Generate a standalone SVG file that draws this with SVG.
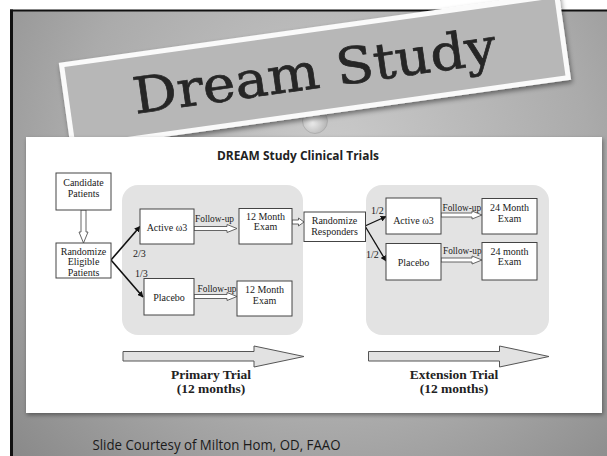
<svg xmlns="http://www.w3.org/2000/svg" width="607" height="456" viewBox="0 0 607 456">
<defs>
<radialGradient id="bg" cx="330" cy="160" r="430" gradientUnits="userSpaceOnUse">
<stop offset="0" stop-color="#cbcbcb"/>
<stop offset="0.6" stop-color="#ababab"/>
<stop offset="1" stop-color="#8a8a8a"/>
</radialGradient>
<radialGradient id="pin" cx="0.4" cy="0.55" r="0.6">
<stop offset="0" stop-color="#eeeeee"/>
<stop offset="1" stop-color="#b4b4b4"/>
</radialGradient>
<filter id="sh" x="-10%" y="-20%" width="120%" height="150%">
<feDropShadow dx="1" dy="3" stdDeviation="2.5" flood-color="#000" flood-opacity="0.45"/>
</filter>
<filter id="sh2" x="-5%" y="-5%" width="110%" height="115%">
<feDropShadow dx="1" dy="2" stdDeviation="2" flood-color="#000" flood-opacity="0.4"/>
</filter>
<marker id="ah" viewBox="0 0 10 10" refX="9" refY="5" markerWidth="6" markerHeight="6" markerUnits="userSpaceOnUse" orient="auto">
<path d="M0,0 L10,5 L0,10 Z" fill="#111"/>
</marker>
</defs>
<style>
.box{fill:#fff;stroke:#444;stroke-width:1}
.t{font-family:"Liberation Serif","Times New Roman",serif;font-size:10px;fill:#1a1a1a;text-anchor:middle}
.lbl{font-family:"Liberation Serif","Times New Roman",serif;font-size:10px;fill:#1a1a1a}
.hol{fill:#fff;stroke:#555;stroke-width:0.9}
.big{fill:#e2e2e2;stroke:#555;stroke-width:1}
.ln{stroke:#111;stroke-width:1.6;fill:none;marker-end:url(#ah)}
.grp{fill:#e3e3e3}
.bt{font-family:"Liberation Serif","Times New Roman",serif;font-size:13.5px;font-weight:bold;fill:#222;text-anchor:middle}
</style>
<rect width="607" height="456" fill="#fff"/>
<rect x="12" y="11" width="595" height="445" fill="url(#bg)"/>
<rect x="10" y="9.5" width="597" height="2" fill="#111"/>
<rect x="10" y="9.5" width="3" height="446.5" fill="#111"/>

<circle cx="315" cy="121" r="12.5" fill="url(#pin)" stroke="#a0a0a0" stroke-width="0.6"/>

<g id="banner" transform="translate(71,150) rotate(-8)">
<rect x="0" y="-88" width="505" height="88" fill="#fafafa" filter="url(#sh)"/>
<rect x="5" y="-83" width="495" height="78" fill="#b7b7b7"/>
<text x="252" y="-27" font-family="DejaVu Serif, 'Liberation Serif', serif" font-size="50" fill="#262626" stroke="#262626" stroke-width="0.7" text-anchor="middle" textLength="366" lengthAdjust="spacingAndGlyphs">Dream Study</text>
</g>

<rect x="26" y="137" width="576" height="276" fill="#fff" filter="url(#sh2)"/>
<text x="298" y="160" font-family="'Open Sans','DejaVu Sans',sans-serif" font-size="12" font-weight="bold" fill="#222" text-anchor="middle" textLength="162" lengthAdjust="spacingAndGlyphs">DREAM Study Clinical Trials</text>

<rect class="grp" x="122" y="185" width="181" height="150" rx="16"/>
<rect class="grp" x="366" y="185" width="183" height="150" rx="16"/>

<g id="connectors">
<path class="hol" d="M81,210 V232 H79 L83.5,243 L88,232 H86 V210 Z"/>
<line class="ln" x1="111" y1="260" x2="140" y2="226.5"/>
<line class="ln" x1="111" y1="260" x2="143" y2="297"/>
<path class="hol" d="M194,226.5 H227 V224.5 L237,228.5 L227,232.5 V230.5 H194 Z"/>
<path class="hol" d="M194,294.5 H227 V292.5 L237,296.5 L227,300.5 V298.5 H194 Z"/>
<path class="hol" d="M292,220 H298.5 V218 L304,222 L298.5,226 V224 H292 Z"/>
<line class="ln" x1="365" y1="226" x2="386" y2="216.5" style="stroke-width:1.3"/>
<line class="ln" x1="365" y1="226" x2="386" y2="261" style="stroke-width:1.3"/>
<path class="hol" d="M441,213 H472 V211 L482,215 L472,219 V217 H441 Z"/>
<path class="hol" d="M441,258 H472 V256 L482,260 L472,264 V262 H441 Z"/>
<text class="lbl" x="133" y="257">2/3</text>
<text class="lbl" x="135" y="277">1/3</text>
<text class="lbl" x="195" y="222" textLength="39" lengthAdjust="spacingAndGlyphs">Follow-up</text>
<text class="lbl" x="197.5" y="291.5" textLength="39" lengthAdjust="spacingAndGlyphs">Follow-up</text>
<text class="lbl" x="371" y="214">1/2</text>
<text class="lbl" x="366" y="258">1/2</text>
<text class="lbl" x="442.5" y="210.5" textLength="38.5" lengthAdjust="spacingAndGlyphs">Follow-up</text>
<text class="lbl" x="443" y="253.5" textLength="38.5" lengthAdjust="spacingAndGlyphs">Follow-up</text>
</g>

<g id="candidate">
<rect class="box" x="56" y="173" width="55" height="37"/>
<text class="t" x="83.5" y="186">Candidate</text>
<text class="t" x="83.5" y="197">Patients</text>
</g>
<g id="randomize-eligible">
<rect class="box" x="56" y="243" width="55" height="35"/>
<text class="t" x="83.5" y="254.5">Randomize</text>
<text class="t" x="83.5" y="265">Eligible</text>
<text class="t" x="83.5" y="275.5">Patients</text>
</g>
<g id="active1">
<rect class="box" x="140" y="209" width="54" height="35"/>
<text class="t" x="167" y="230.5">Active ω3</text>
</g>
<g id="exam12a">
<rect class="box" x="239" y="208.5" width="53" height="35.5"/>
<text class="t" x="265.5" y="219.5">12 Month</text>
<text class="t" x="265.5" y="230">Exam</text>
</g>
<g id="placebo1">
<rect class="box" x="144" y="278.5" width="50" height="36.5"/>
<text class="t" x="169" y="300.5">Placebo</text>
</g>
<g id="exam12b">
<rect class="box" x="237" y="281" width="55" height="35"/>
<text class="t" x="264.5" y="292.5">12 Month</text>
<text class="t" x="264.5" y="303.5">Exam</text>
</g>
<g id="randomize-responders">
<rect class="box" x="304" y="212" width="61.5" height="29.5"/>
<text class="t" x="334.5" y="224">Randomize</text>
<text class="t" x="334.5" y="234.5">Responders</text>
</g>
<g id="active2">
<rect class="box" x="386" y="198" width="55" height="36"/>
<text class="t" x="413.5" y="223.5">Active ω3</text>
</g>
<g id="exam24a">
<rect class="box" x="482" y="198.5" width="55" height="35.5"/>
<text class="t" x="509.5" y="211">24 Month</text>
<text class="t" x="509.5" y="221.5">Exam</text>
</g>
<g id="placebo2">
<rect class="box" x="386" y="243.5" width="55" height="36.5"/>
<text class="t" x="413.5" y="266">Placebo</text>
</g>
<g id="exam24b">
<rect class="box" x="482" y="242.5" width="55" height="37.5"/>
<text class="t" x="509.5" y="254.5">24 month</text>
<text class="t" x="509.5" y="265">Exam</text>
</g>

<g id="primary-trial">
<path class="big" d="M123,351.5 H254 V346 L304,356.5 L254,367 V361 H123 Z"/>
<text class="bt" x="211" y="379">Primary Trial</text>
<text class="bt" x="211" y="393">(12 months)</text>
</g>
<g id="extension-trial">
<path class="big" d="M368.5,351.5 H499.5 V346 L549,356.5 L499.5,367 V361 H368.5 Z"/>
<text class="bt" x="454" y="379">Extension Trial</text>
<text class="bt" x="454" y="393">(12 months)</text>
</g>

<text x="92.5" y="450" font-family="'Open Sans','DejaVu Sans',sans-serif" font-size="14" fill="#1a1a1a" textLength="248" lengthAdjust="spacingAndGlyphs">Slide Courtesy of Milton Hom, OD, FAAO</text>
</svg>
